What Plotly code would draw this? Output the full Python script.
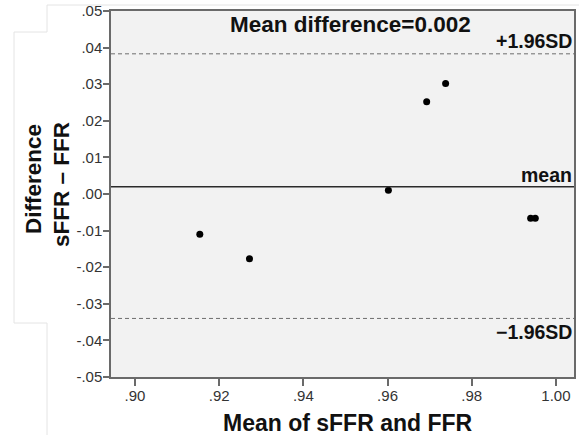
import plotly.graph_objects as go

# Data (Bland-Altman plot)
mean_values = [0.9154, 0.9272, 0.9602, 0.9693, 0.9738, 0.9940, 0.9951]
differences = [-0.0110, -0.0177, 0.0010, 0.0252, 0.0302, -0.0066, -0.0066]
mean_difference = 0.002
upper_loa = 0.0383
lower_loa = -0.0340

y_tickvals = [0.05, 0.04, 0.03, 0.02, 0.01, 0.00, -0.01, -0.02, -0.03, -0.04, -0.05]
y_ticktext = [".05", ".04", ".03", ".02", ".01", ".00", "-.01", "-.02", "-.03", "-.04", "-.05"]
x_tickvals = [0.90, 0.92, 0.94, 0.96, 0.98, 1.00]
x_ticktext = [".90", ".92", ".94", ".96", ".98", "1.00"]

W, H = 579, 435
L, R, T, B = 111, 574, 11, 377


def px(x):
    return (x - L) / (R - L)


def py(y):
    return (B - y) / (B - T)


FONT = "Liberation Sans, Arial, sans-serif"

fig = go.Figure()
fig.add_trace(go.Scatter(
    x=mean_values, y=differences, mode="markers",
    marker=dict(color="#000000", size=7),
    showlegend=False, hoverinfo="x+y",
))

shapes = [
    dict(type="line", xref="paper", yref="y", x0=0, x1=1, y0=mean_difference, y1=mean_difference,
         line=dict(color="#2b2b2b", width=1.5)),
    dict(type="line", xref="paper", yref="y", x0=0, x1=1, y0=upper_loa, y1=upper_loa,
         line=dict(color="#6e6e6e", width=1, dash="4px,3px")),
    dict(type="line", xref="paper", yref="y", x0=0, x1=1, y0=lower_loa, y1=lower_loa,
         line=dict(color="#6e6e6e", width=1, dash="4px,3px")),
    # faint panel outline from the original figure
    dict(type="path", xref="paper", yref="paper", layer="below",
         path=f"M {px(579)},{py(5)} L {px(47)},{py(5)} L {px(47)},{py(32)} L {px(14)},{py(32)} "
              f"L {px(14)},{py(323)} L {px(47)},{py(323)} L {px(47)},{py(435)}",
         line=dict(color="#e4e4e4", width=1)),
]

annotations = [
    dict(text="<b>Mean difference=0.002</b>", xref="paper", yref="paper",
         x=px(350), y=py(24), xanchor="center", yanchor="middle", showarrow=False,
         font=dict(size=22.5, color="#111111", family=FONT)),
    dict(text="<b>+1.96SD</b>", xref="paper", yref="y", x=1, y=upper_loa,
         xanchor="right", yanchor="bottom", yshift=0, showarrow=False,
         font=dict(size=19.5, color="#111111", family=FONT)),
    dict(text="<b>mean</b>", xref="paper", yref="y", x=1, y=mean_difference,
         xanchor="right", yanchor="bottom", yshift=-1, showarrow=False,
         font=dict(size=19.5, color="#111111", family=FONT)),
    dict(text="<b>\u22121.96SD</b>", xref="paper", yref="y", x=1, y=lower_loa,
         xanchor="right", yanchor="top", yshift=-1, showarrow=False,
         font=dict(size=19.5, color="#111111", family=FONT)),
    dict(text="<b>Difference</b>", xref="paper", yref="paper", x=px(34), y=py(179),
         xanchor="center", yanchor="middle", textangle=-90, showarrow=False,
         font=dict(size=22.5, color="#111111", family=FONT)),
    dict(text="<b>sFFR \u2013 FFR</b>", xref="paper", yref="paper", x=px(61), y=py(185),
         xanchor="center", yanchor="middle", textangle=-90, showarrow=False,
         font=dict(size=22.5, color="#111111", family=FONT)),
    dict(text="<b>Mean of sFFR and FFR</b>", xref="paper", yref="paper", x=px(348), y=py(423),
         xanchor="center", yanchor="middle", showarrow=False,
         font=dict(size=23, color="#111111", family=FONT)),
]

fig.update_layout(
    width=W, height=H,
    margin=dict(l=L, r=W - R, t=T, b=H - B, autoexpand=False),
    paper_bgcolor="#ffffff", plot_bgcolor="#f2f2f2",
    shapes=shapes, annotations=annotations,
    font=dict(family=FONT, color="#333333", size=15),
    xaxis=dict(range=[0.8943, 1.0043], tickvals=x_tickvals, ticktext=x_ticktext,
               showgrid=False, zeroline=False, showline=True, linecolor="#6a6a6a", linewidth=1.5,
               mirror=True, ticks="outside", ticklen=7, tickcolor="#6a6a6a", tickwidth=1.5,
               ticklabelstandoff=-3,
               tickfont=dict(size=15, color="#333333")),
    yaxis=dict(range=[-0.05, 0.05], tickvals=y_tickvals, ticktext=y_ticktext,
               showgrid=False, zeroline=False, showline=True, linecolor="#6a6a6a", linewidth=1.5,
               mirror=True, ticks="outside", ticklen=6, tickcolor="#6a6a6a", tickwidth=1.5,
               ticklabelstandoff=-2,
               tickfont=dict(size=15, color="#333333")),
)

fig.write_html("out.html", config={"displayModeBar": False},
               post_script="document.body.style.margin='0';document.body.style.overflow='hidden';")
